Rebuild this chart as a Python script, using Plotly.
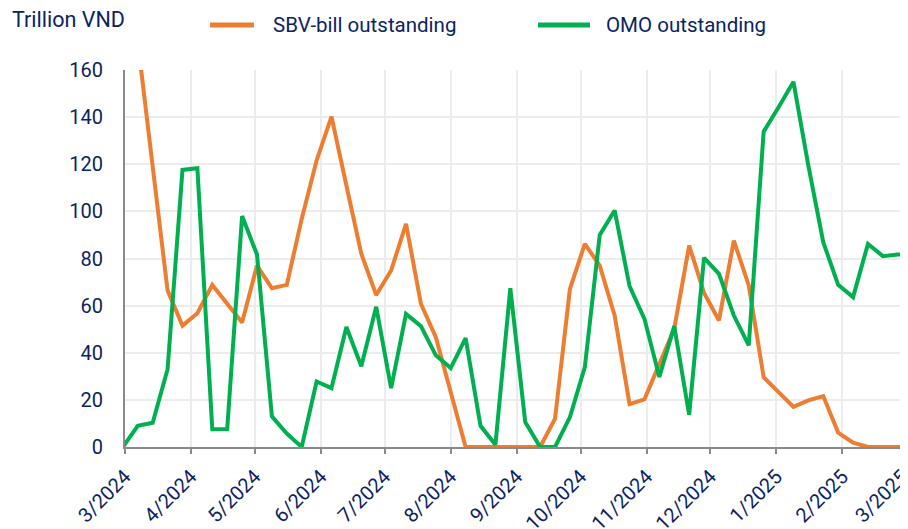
import pandas as pd
import plotly.graph_objects as go

# Weekly observation dates (Thursdays)
dates = pd.date_range("2024-02-29", periods=54, freq="W-THU")

sbv_bill = [180, 172, 119, 66.4, 51.5, 56.8, 68.8, 60.8, 52.8, 77,
            67.4, 68.8, 96.8, 121.6, 140.2, 111, 82, 64.5, 74.9, 94.7,
            60.8, 46.6, 24, 0, 0, 0, 0, 0, 0, 12,
            67.1, 86.2, 77, 55.8, 18.2, 20.2, 35, 50.2, 85.5, 65.4,
            53.7, 87.6, 68.6, 29.6, 23.3, 17, 19.8, 21.6, 6.1, 1.8,
            0, 0, 0, 0]

omo = [0, 9, 10.3, 33, 117.6, 118.3, 7.5, 7.6, 98, 81.7,
       13, 5.7, 0, 27.8, 25, 50.9, 34.3, 59.5, 25, 56.5,
       51.3, 38.9, 33.5, 46.2, 9, 1, 67.4, 10.6, 0, 0,
       12.7, 33.9, 90, 100.4, 68.3, 54.4, 29.7, 51.3, 13.7, 80.3,
       73.5, 55.8, 43.1, 133.8, 144.2, 155, 119.4, 86.9, 68.8, 63.6,
       86.2, 81, 81.7, 82]

series_names = ["SBV-bill outstanding", "OMO outstanding"]
series_colors = ["#ED7D31", "#00B050"]
y_unit = "Trillion VND"

TEXT = "#0B2461"
FONT = "Roboto"

# page body has an 8px margin; figure is sized/offset to compensate
OFF = 8
W, H = 900, 521
L, R, T, B = 125 - OFF, 1, 70 - OFF, 82
PW, PH = W - L - R, H - T - B


def px_x(x):
    return (x - OFF - L) / PW


def px_y(y):
    return (H - B - (y - OFF)) / PH


fig = go.Figure()
for name, vals, col in zip(series_names, [sbv_bill, omo], series_colors):
    fig.add_trace(go.Scatter(x=dates, y=vals, mode="lines", name=name,
                             line=dict(color=col, width=4), showlegend=False))

# custom legend
legend_items = [(210, 254, 271), (538, 590, 604)]
shapes = []
annotations = []
for (x0, x1, xt), name, col in zip(legend_items, series_names, series_colors):
    shapes.append(dict(type="line", xref="paper", yref="paper",
                       x0=px_x(x0), x1=px_x(x1), y0=px_y(25), y1=px_y(25),
                       line=dict(color=col, width=5)))
    annotations.append(dict(text=name, xref="paper", yref="paper",
                            x=px_x(xt), y=px_y(25), xanchor="left", yanchor="middle",
                            showarrow=False, font=dict(size=20.5, color=TEXT, family=FONT)))
annotations.append(dict(text=y_unit, xref="paper", yref="paper",
                        x=px_x(10), y=px_y(19), xanchor="left", yanchor="middle",
                        showarrow=False, font=dict(size=21.5, color=TEXT, family=FONT)))

fig.update_layout(
    width=W, height=H,
    margin=dict(l=L, r=R, t=T, b=B, pad=0, autoexpand=False),
    paper_bgcolor="white", plot_bgcolor="white",
    font=dict(family=FONT, size=20, color=TEXT),
    shapes=shapes, annotations=annotations,
    xaxis=dict(type="date", range=["2024-03-01", "2025-03-03 08:00"],
               tick0="2024-03-01", dtick="M1", tickformat="%-m/%Y",
               tickangle=-45, ticks="outside", ticklen=5, tickwidth=2,
               tickcolor="#8a8a8a", showline=True, linecolor="#8a8a8a",
               linewidth=2, showgrid=True, gridcolor="#ececec", gridwidth=2,
               zeroline=False, automargin=False, ticklabeloverflow="allow",
               ticklabelstandoff=3,
               tickfont=dict(size=20, color=TEXT, family=FONT)),
    yaxis=dict(range=[0, 160], dtick=20, showline=True, linecolor="#8a8a8a",
               linewidth=2, showgrid=True, gridcolor="#ececec", gridwidth=2,
               zeroline=False, ticks="", ticklabelstandoff=16, automargin=False,
               tickfont=dict(size=20, color=TEXT, family=FONT)),
)

fig.write_html("out.html")
